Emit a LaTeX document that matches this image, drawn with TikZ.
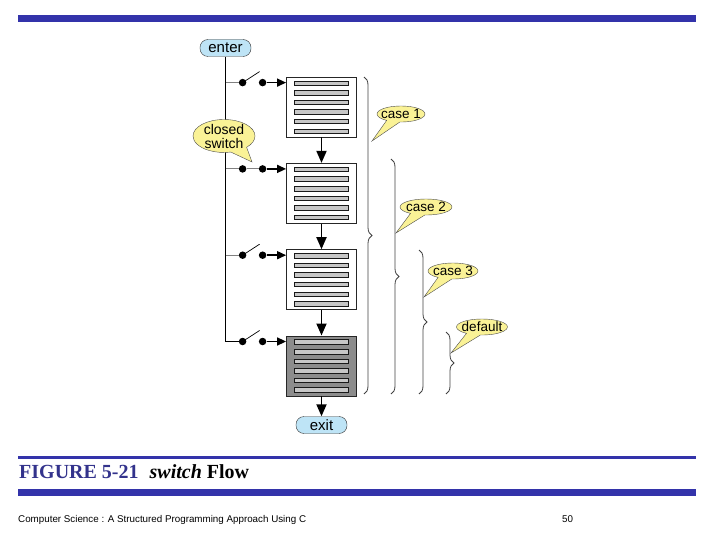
\documentclass[tikz,border=0pt]{standalone}
\usepackage{fontspec}
\setmainfont{Liberation Serif}
\setsansfont{Liberation Sans}
\usepackage{xcolor}
\usetikzlibrary{arrows.meta,positioning,shapes.callouts,decorations.pathreplacing}
\definecolor{barblue}{RGB}{51,51,170}
\definecolor{capblue}{RGB}{51,51,140}
\definecolor{termblue}{RGB}{190,228,246}
\definecolor{bubbleyellow}{RGB}{250,242,150}
\definecolor{defaultgray}{RGB}{140,140,140}

\begin{document}
\begin{tikzpicture}[x=1pt,y=-1pt,
        term/.style={draw=black!80,fill=termblue,rounded corners=8pt,minimum width=51pt,
          minimum height=17pt,inner sep=0pt,font=\sffamily\fontsize{15}{15}\selectfont},
        casebox/.style={draw=black!85,fill=white,line width=0.8pt,minimum width=70pt,
          minimum height=60pt,inner sep=0pt},
        bar/.style={draw=black!90,fill=black!22,line width=0.9pt},
        flow/.style={line width=1.8pt,-{Triangle[length=12pt,width=10pt]}},
        feed/.style={line width=1.5pt,-{Triangle[length=9pt,width=8pt]}},
        pin/.style={circle,fill=black,inner sep=0pt,minimum size=7.5pt},
        bubble/.style={ellipse callout,callout pointer arc=34,draw=black!70,fill=bubbleyellow,
          inner xsep=-20pt,inner ysep=-4pt,minimum width=50pt,minimum height=16pt,
          font=\sffamily\fontsize{13.5}{13.5}\selectfont},
        bracket/.style={draw=black!75,line width=0.8pt,decorate,decoration={brace,amplitude=8pt}}]
  \useasboundingbox (0,0) rectangle (720,540);

  % page bars
  \fill[barblue] (18,15) rectangle (696,22);
  \fill[barblue] (18,456) rectangle (696,459);
  \fill[barblue] (18,489) rectangle (696,496);

  % terminals and case blocks
  \node[term] (enter) at (225.5,48) {enter};
  \node[casebox] (box1) at (321.5,107) {};
  \node[casebox,below=25.5pt of box1] (box2) {};
  \node[casebox,below=25.5pt of box2] (box3) {};
  \node[casebox,below=25.5pt of box3,fill=defaultgray] (box4) {};
  \node[term,below=20pt of box4] (exit) {exit};

  \foreach \b in {1,...,4}{
    \foreach \k in {0,...,5}
      \draw[bar] ([shift={(-27,-26+\k*9.6)}]box\b.center) rectangle +(54,4.5);
    \coordinate (in\b) at ([yshift=-6pt]box\b.north west);
    \node[pin] (sa\b) at ([xshift=-43.5pt]in\b) {};
    \node[pin] (sb\b) at ([xshift=-23.5pt]in\b) {};
    \draw[feed] (sb\b) -- (in\b);
  }

  % switches
  \draw[line width=0.8pt] (enter) -- (enter |- in4) -- (sa4);
  \foreach \b in {1,2,3}
    \draw[gray,line width=0.8pt] (enter |- in\b) -- (sa\b);
  \foreach \b in {1,3,4}
    \draw[line width=0.7pt] (sa\b.center) -- ++(17,-11);
  \draw[gray,line width=1pt] (sa2) -- (sb2);

  \draw[flow] (box1) -- (box2);
  \draw[flow] (box2) -- (box3);
  \draw[flow] (box3) -- (box4);
  \draw[flow] (box4) -- (exit);

  % braces
  \draw[bracket] (364,77) -- (364,394);
  \draw[bracket] (391,159) -- (391,394);
  \draw[bracket] (419,250) -- (419,394);
  \draw[bracket] (446,332) -- (446,394);

  % callouts
  \coordinate (tipclosed) at (252,162);
  \coordinate (tip1) at (372,141);
  \coordinate (tip2) at (396,233);
  \coordinate (tip3) at (424,297);
  \coordinate (tip4) at (451,353);
  \node[bubble,align=center,font=\sffamily\fontsize{14}{14}\selectfont,
    minimum width=62pt,minimum height=33pt,
    callout absolute pointer=(tipclosed)] (closed) at (224,136) {closed\\switch};
  \node[bubble,minimum width=48pt,callout absolute pointer=(tip1)] (case1) at (401,114) {case 1};
  \node[bubble,minimum width=52pt,callout absolute pointer=(tip2)] (case2) at (426,207) {case 2};
  \node[bubble,callout absolute pointer=(tip3)] (case3) at (453,271) {case 3};
  \node[bubble,minimum width=51pt,callout absolute pointer=(tip4)] (default) at (482,327) {default};

  % caption and footer
  \node[anchor=base west,inner sep=0pt] (caption) at (19,478)
    {\fontsize{20}{20}\selectfont\bfseries\textcolor{capblue}{FIGURE 5-21}\hspace{11pt}\textit{switch} Flow};
  \node[anchor=base west,inner sep=0pt,font=\sffamily\fontsize{9.8}{9.8}\selectfont] (footer)
    at (18,522) {Computer Science : A Structured Programming Approach Using C};
  \node[anchor=base west,inner sep=0pt,font=\sffamily\fontsize{9.8}{9.8}\selectfont] (page)
    at (562,522) {50};
\end{tikzpicture}
\end{document}
